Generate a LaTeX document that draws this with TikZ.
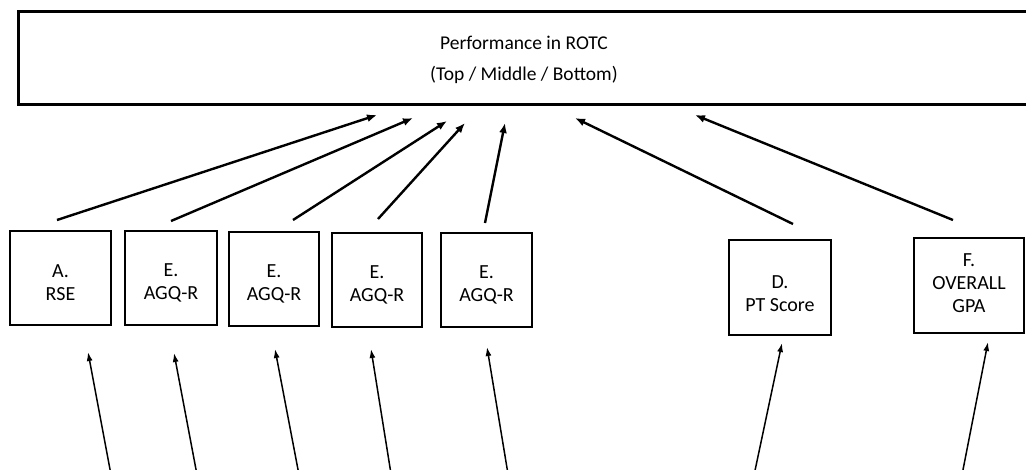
\documentclass[tikz,border=0pt]{standalone}
\usepackage{fontspec}
\setmainfont{Carlito}
\usetikzlibrary{arrows.meta}
\tikzset{
  x=1pt, y=-1pt,
  topbox/.style 2 args={draw, line width=3pt, inner sep=0pt, outer sep=0pt,
    label={[align=center, inner sep=0pt, yshift=#1,
      font=\fontsize{19.5}{31}\selectfont]center:{#2}}},
  smallbox/.style 2 args={draw, line width=2pt, inner sep=0pt, outer sep=0pt,
    label={[align=center, inner sep=0pt, yshift=#1,
      font=\fontsize{20}{23}\selectfont]center:{#2}}},
  uparrow/.style={line width=2.4pt, -{Latex[length=10pt,width=8pt]}},
  lowarrow/.style={line width=1.5pt, -{Latex[length=9pt,width=6pt]}}
}
\begin{document}
\begin{tikzpicture}
\clip (0,0) rectangle (1026,469);
\fill[white] (0,0) rectangle (1026,469);
% top box
\node[topbox={-2pt}{Performance in ROTC\\(Top / Middle / Bottom)},
  minimum width=1012pt, minimum height=93pt] (top) at (524,57.5) {};
% small boxes
\node[smallbox={-5pt}{A.\\RSE}, minimum width=101pt, minimum height=94pt] (A) at (60.5,278) {};
\node[smallbox={-5pt}{E.\\AGQ-R}, minimum width=92pt, minimum height=94pt] (E1) at (171,278) {};
\node[smallbox={-5pt}{E.\\AGQ-R}, minimum width=90pt, minimum height=94pt] (E2) at (274,279) {};
\node[smallbox={-5pt}{E.\\AGQ-R}, minimum width=90pt, minimum height=94pt] (E3) at (377,280) {};
\node[smallbox={-5pt}{E.\\AGQ-R}, minimum width=91pt, minimum height=94pt] (E4) at (486.5,280) {};
\node[smallbox={-6pt}{D.\\PT Score}, minimum width=102pt, minimum height=95pt] (D) at (780,287.5) {};
\node[smallbox={2pt}{F.\\OVERALL\\GPA}, minimum width=110pt, minimum height=95pt] (F) at (969,285.5) {};
% arrow end points
\coordinate (t1) at (57,220);  \coordinate (h1) at (377,115);
\coordinate (t2) at (171,221); \coordinate (h2) at (413,118);
\coordinate (t3) at (293,220); \coordinate (h3) at (447,121);
\coordinate (t4) at (378,219); \coordinate (h4) at (465,123);
\coordinate (t5) at (485,223); \coordinate (h5) at (505,123);
\coordinate (t6) at (793,224); \coordinate (h6) at (575,118);
\coordinate (t7) at (953,220); \coordinate (h7) at (695,115);
\coordinate (b1) at (112,480); \coordinate (p1) at (88,352);
\coordinate (b2) at (198,480); \coordinate (p2) at (174,353);
\coordinate (b3) at (300,480); \coordinate (p3) at (275,349);
\coordinate (b4) at (392,480); \coordinate (p4) at (371,349);
\coordinate (b5) at (509,480); \coordinate (p5) at (487,347);
\coordinate (b6) at (753,480); \coordinate (p6) at (782,343);
\coordinate (b7) at (961,480); \coordinate (p7) at (988,342);
\foreach \i in {1,...,7}{
  \draw[uparrow] (t\i) -- (h\i);
  \draw[lowarrow] (b\i) -- (p\i);
}
\end{tikzpicture}
\end{document}
